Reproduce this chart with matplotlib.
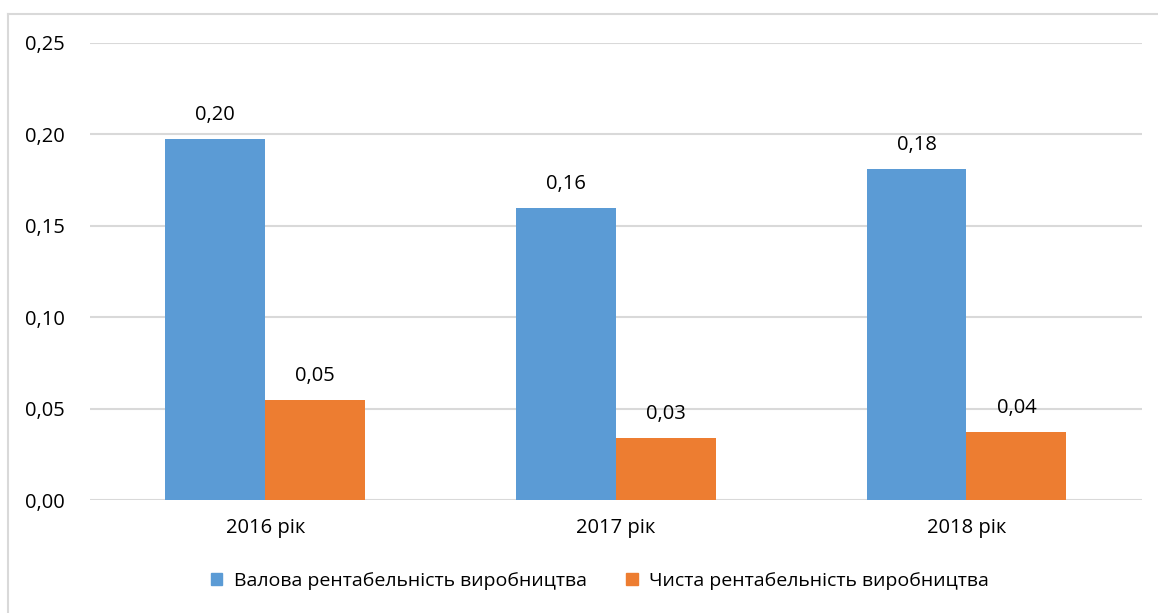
import numpy as np
import matplotlib.pyplot as plt
from matplotlib.lines import Line2D
from matplotlib.ticker import FuncFormatter

plt.rcParams['font.family'] = ['Open Sans', 'DejaVu Sans']

years = ['2016 рік', '2017 рік', '2018 рік']
gross = [0.1975, 0.160, 0.181]
net = [0.0547, 0.0339, 0.0372]
gross_labels = ['0,20', '0,16', '0,18']
net_labels = ['0,05', '0,03', '0,04']
series_names = ['Валова рентабельність виробництва', 'Чиста рентабельність виробництва']

blue = '#5b9bd5'
orange = '#ed7d31'

fig = plt.figure(figsize=(11.58, 6.13), dpi=100)
ax = fig.add_axes([0.0777, 0.1843, 0.9083, 0.7456])

x = np.arange(len(years))
w = 0.285
b1 = ax.bar(x - w / 2, gross, w, color=blue, zorder=3)
b2 = ax.bar(x + w / 2, net, w, color=orange, zorder=3)

for rect, lab in zip(b1, gross_labels):
    ax.text(rect.get_x() + rect.get_width() / 2, rect.get_height() + 0.0075, lab,
            ha='center', va='bottom', fontsize=14.5, color='#000000')
for rect, lab in zip(b2, net_labels):
    ax.text(rect.get_x() + rect.get_width() / 2, rect.get_height() + 0.0075, lab,
            ha='center', va='bottom', fontsize=14.5, color='#000000')

ax.set_xlim(-0.5, 2.5)
ax.set_ylim(0, 0.25)
ax.set_yticks(np.arange(0, 0.26, 0.05))
ax.yaxis.set_major_formatter(FuncFormatter(lambda v, p: f'{v:.2f}'.replace('.', ',')))
ax.set_xticks(x)
ax.set_xticklabels(years)
ax.tick_params(axis='both', length=0, labelsize=14.5, colors='#000000')
ax.tick_params(axis='x', pad=13)
ax.tick_params(axis='y', pad=47)
for lab in ax.get_yticklabels():
    lab.set_horizontalalignment('left')
ax.grid(axis='y', color='#d9d9d9', linewidth=1.5, zorder=0)
for s in ax.spines.values():
    s.set_visible(False)

# outer frame
fig.add_artist(Line2D([0.007, 0.007], [0, 0.977], color='#d9d9d9', lw=1.5))
fig.add_artist(Line2D([0.007, 1.0], [0.977, 0.977], color='#d9d9d9', lw=1.5))

handles = [plt.Rectangle((0, 0), 1, 1, color=blue), plt.Rectangle((0, 0), 1, 1, color=orange)]
fig.legend(handles, series_names, loc='center', bbox_to_anchor=(0.518, 0.052), ncol=2,
           frameon=False, fontsize=14, handlelength=0.6, handleheight=0.6,
           columnspacing=2.0, handletextpad=0.6)

fig.savefig('out.png', dpi=100)
